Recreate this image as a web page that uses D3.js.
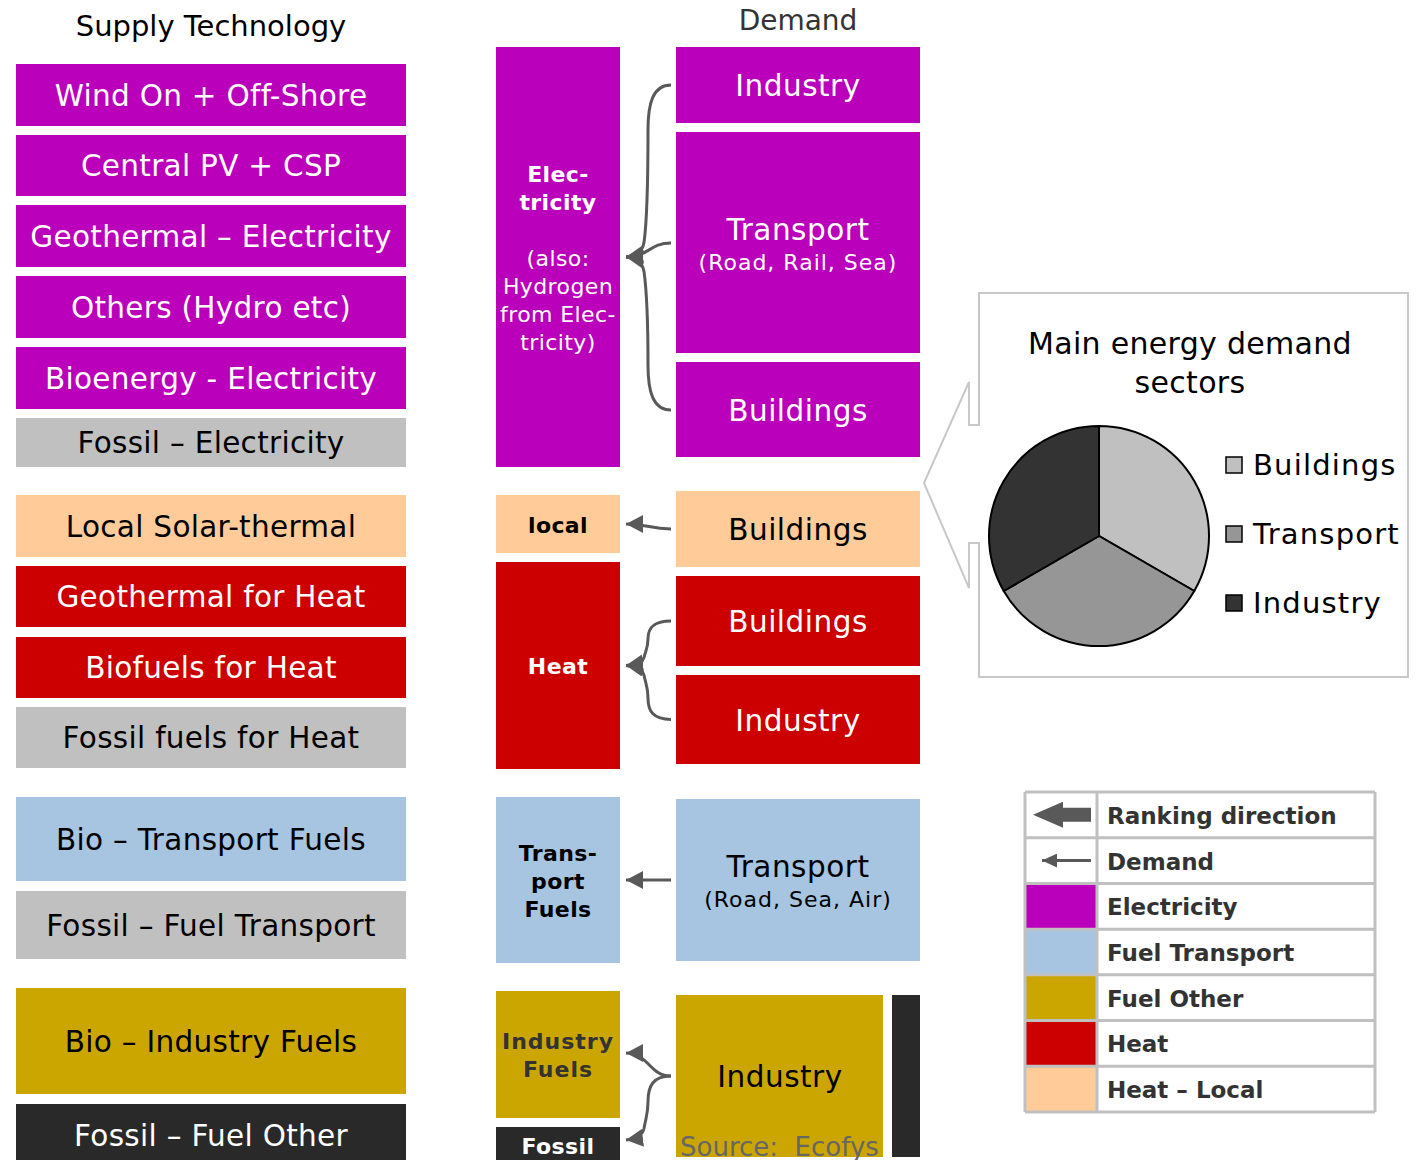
<!DOCTYPE html>
<html>
<head>
<meta charset="utf-8">
<script src="https://cdn.jsdelivr.net/npm/d3@7"></script>
<style>
  body { margin: 0; background: #fff; }
  svg { display: block; }
  text { font-family: "DejaVu Sans", Verdana, sans-serif; }
</style>
</head>
<body>
<div id="chart"></div>
<script>
// ---- data ----
const supplyLabels = ["Wind On + Off-Shore", "Central PV + CSP", "Geothermal – Electricity", "Others (Hydro etc)",
  "Bioenergy - Electricity", "Fossil – Electricity", "Local Solar-thermal", "Geothermal for Heat",
  "Biofuels for Heat", "Fossil fuels for Heat", "Bio – Transport Fuels", "Fossil – Fuel Transport",
  "Bio – Industry Fuels", "Fossil – Fuel Other"];
const supplyTypes = ["elec", "elec", "elec", "elec", "elec", "fossil", "local", "heat", "heat", "fossil",
  "transport", "fossil", "other", "fossilOther"];

const carrierLines = [
  ["Elec-", "tricity", "", "(also:", "Hydrogen", "from Elec-", "tricity)"],
  ["local"],
  ["Heat"],
  ["Trans-", "port", "Fuels"],
  ["Industry", "Fuels"],
  ["Fossil"]
];
const carrierBoldLines = [2, 1, 1, 3, 2, 1];
const carrierTypes = ["elec", "local", "heat", "transport", "other", "fossilOther"];

const demandLabels = ["Industry", "Transport", "Buildings", "Buildings", "Buildings", "Industry", "Transport", "Industry"];
const demandSubs = ["", "(Road, Rail, Sea)", "", "", "", "", "(Road, Sea, Air)", ""];
const demandTypes = ["elec", "elec", "elec", "local", "heat", "heat", "transport", "other"];

// demand index -> carrier index
const links = [[0, 0], [1, 0], [2, 0], [3, 1], [4, 2], [5, 2], [6, 3], [7, 4], [7, 5]];

const sectorNames = ["Buildings", "Transport", "Industry"];
const sectorShares = [1, 1, 1];

const legendLabels = ["Ranking direction", "Demand", "Electricity", "Fuel Transport", "Fuel Other", "Heat", "Heat – Local"];
const legendKeys = ["rank", "demand", "elec", "transport", "other", "heat", "local"];

// ---- styles ----
const fillColor = { elec: "#bb00bb", fossil: "#c0c0c0", local: "#ffcc99", heat: "#cc0000",
  transport: "#a7c4e0", other: "#cca600", fossilOther: "#292929" };
const textColor = { elec: "#fff", fossil: "#000", local: "#000", heat: "#fff",
  transport: "#000", other: "#000", fossilOther: "#fff" };
const arrowGrey = "#595959";

// ---- layout (box extents in px) ----
const supplyX = [16, 406];
const supplyY = [[64, 126], [135, 196], [205, 267], [276, 338], [347, 409], [418, 467], [495, 557],
  [566, 627], [637, 698], [707, 768], [797, 881], [891, 959], [988, 1094], [1104, 1170]];
const carrierX = [496, 620];
const carrierY = [[47, 467], [495, 553], [562, 769], [797, 963], [991, 1118], [1127, 1170]];
const demandX = [676, 920];
const demandY = [[47, 123], [132, 353], [362, 457], [491, 567], [576, 666], [675, 764], [799, 961], [995, 1157]];

const W = 1419, H = 1160;
const svg = d3.select("#chart").append("svg").attr("width", W).attr("height", H);

const defs = svg.append("defs");
defs.append("marker")
  .attr("id", "head")
  .attr("markerUnits", "userSpaceOnUse")
  .attr("viewBox", "0 -9 17 18")
  .attr("refX", 17).attr("refY", 0)
  .attr("markerWidth", 17).attr("markerHeight", 18)
  .attr("orient", "auto")
  .append("path").attr("d", "M0,-9L17,0L0,9Z").attr("fill", arrowGrey);
defs.append("marker")
  .attr("id", "headSmall")
  .attr("markerUnits", "userSpaceOnUse")
  .attr("viewBox", "0 -7 15 14")
  .attr("refX", 15).attr("refY", 0)
  .attr("markerWidth", 15).attr("markerHeight", 14)
  .attr("orient", "auto")
  .append("path").attr("d", "M0,-7L15,0L0,7Z").attr("fill", arrowGrey);

// ---- headers ----
svg.append("text").attr("x", 211).attr("y", 36).attr("text-anchor", "middle")
  .attr("font-size", 29).attr("fill", "#000").text("Supply Technology");
svg.append("text").attr("x", 798).attr("y", 30).attr("text-anchor", "middle")
  .attr("font-size", 28).attr("fill", "#333").text("Demand");

// ---- supply column ----
const supply = svg.append("g").selectAll("g")
  .data(supplyLabels.map((label, i) => ({ label, type: supplyTypes[i], y0: supplyY[i][0], y1: supplyY[i][1] })))
  .join("g");
supply.append("rect")
  .attr("x", supplyX[0]).attr("width", supplyX[1] - supplyX[0])
  .attr("y", d => d.y0).attr("height", d => d.y1 - d.y0)
  .attr("fill", d => fillColor[d.type]);
supply.append("text")
  .attr("x", (supplyX[0] + supplyX[1]) / 2)
  .attr("y", d => (d.y0 + Math.min(d.y1, 1166)) / 2 + 10.5)
  .attr("text-anchor", "middle").attr("font-size", 29.5).attr("letter-spacing", 0.3)
  .attr("fill", d => textColor[d.type])
  .text(d => d.label);

// ---- carrier column ----
const carriers = svg.append("g").selectAll("g")
  .data(carrierLines.map((lines, i) => ({ lines, bold: carrierBoldLines[i], type: carrierTypes[i], y0: carrierY[i][0], y1: carrierY[i][1] })))
  .join("g");
carriers.append("rect")
  .attr("x", carrierX[0]).attr("width", carrierX[1] - carrierX[0])
  .attr("y", d => d.y0).attr("height", d => d.y1 - d.y0)
  .attr("fill", d => fillColor[d.type]);
carriers.each(function (d) {
  const cy = d.type === "fossilOther" ? 1145 : (d.y0 + d.y1) / 2;
  const n = d.lines.length;
  d3.select(this).selectAll("text.line").data(d.lines).join("text")
    .attr("class", "line")
    .attr("x", (carrierX[0] + carrierX[1]) / 2)
    .attr("y", (t, i) => cy + 8.5 + (i - (n - 1) / 2) * 28)
    .attr("text-anchor", "middle").attr("font-size", 22)
    .attr("font-weight", (t, i) => i < d.bold ? "bold" : "normal")
    .attr("letter-spacing", d.type === "other" ? 1 : 0.4)
    .attr("fill", d.type === "other" ? "#333" : textColor[d.type])
    .text(t => t);
});

// ---- demand column ----
const demand = svg.append("g").selectAll("g")
  .data(demandLabels.map((label, i) => ({ label, sub: demandSubs[i], type: demandTypes[i], y0: demandY[i][0], y1: demandY[i][1] })))
  .join("g");
demand.append("rect")
  .attr("x", demandX[0])
  .attr("width", d => d.type === "other" ? 207 : demandX[1] - demandX[0])
  .attr("y", d => d.y0).attr("height", d => d.y1 - d.y0)
  .attr("fill", d => fillColor[d.type]);
demand.filter(d => d.type === "other").append("rect")
  .attr("x", 892).attr("width", demandX[1] - 892)
  .attr("y", d => d.y0).attr("height", d => d.y1 - d.y0)
  .attr("fill", fillColor.fossilOther);
demand.append("text")
  .attr("x", d => d.type === "other" ? 780 : (demandX[0] + demandX[1]) / 2)
  .attr("y", d => (d.y0 + d.y1) / 2 + (d.sub ? -3 : 11))
  .attr("text-anchor", "middle").attr("font-size", 29.5).attr("letter-spacing", 0.5)
  .attr("fill", d => textColor[d.type])
  .text(d => d.label);
demand.filter(d => d.sub).append("text")
  .attr("x", (demandX[0] + demandX[1]) / 2)
  .attr("y", d => (d.y0 + d.y1) / 2 + 27)
  .attr("text-anchor", "middle").attr("font-size", 22).attr("letter-spacing", 1)
  .attr("fill", d => textColor[d.type])
  .text(d => d.sub);

svg.append("text").attr("x", 680).attr("y", 1156)
  .attr("font-size", 26).attr("fill", "#666").style("white-space", "pre")
  .text("Source:  Ecofys");

// ---- demand arrows ----
const xStart = demandX[0] - 5, xEnd = carrierX[1] + 6, xBend = 647;
function arrowPath(ys, ye) {
  const p = d3.path();
  const dy = ye - ys, s = Math.sign(dy) || 1;
  p.moveTo(xStart, ys);
  if (Math.abs(dy) < 30) {
    p.bezierCurveTo(xBend + 2, ys, xBend + 2, ye, xEnd, ye);
  } else {
    const r1 = Math.min(Math.abs(dy) * 0.4, 45), r2 = Math.min(Math.abs(dy) * 0.3, 24);
    p.bezierCurveTo(xBend + 6, ys, xBend + 1, ys + s * r1 * 0.4, xBend + 1, ys + s * r1);
    p.bezierCurveTo(xBend + 1, ys + s * Math.abs(dy) * 0.6, xBend - 1, ye - s * r2 * 1.2, xBend - 3, ye - s * r2 * 0.6);
    p.bezierCurveTo(xBend - 5, ye - s * 3, xEnd + 8, ye - s * 1, xEnd, ye);
  }
  return p.toString();
}
const carrierTarget = i => {
  if (i === 4) return 1053;
  if (i === 5) return 1140;
  if (i === 1) return 524;
  return (carrierY[i][0] + carrierY[i][1]) / 2;
};
const demandSource = i => {
  if (i === 3) return 529;
  if (i === 7) return 1076;
  const c = (demandY[i][0] + demandY[i][1]) / 2;
  if (i === 2) return 410;
  if (i === 1) return 243;
  return c;
};
svg.append("g").selectAll("path")
  .data(links)
  .join("path")
  .attr("d", ([di, ci]) => {
    const ys = demandSource(di), ye = carrierTarget(ci);
    if (di === 6) return `M${xStart},${ys}L${xEnd},${ye}`;
    return arrowPath(ys, ye);
  })
  .attr("fill", "none")
  .attr("stroke", arrowGrey)
  .attr("stroke-width", 3)
  .attr("marker-end", "url(#head)");

// ---- pie callout ----
const box = { x0: 979, y0: 293, x1: 1408, y1: 677 };
const callout = [[box.x0, box.y0], [box.x1, box.y0], [box.x1, box.y1], [box.x0, box.y1],
  [box.x0, 543], [969, 543], [969, 588], [924, 483], [969, 382], [969, 425], [box.x0, 425]];
svg.append("path")
  .attr("d", d3.line()(callout) + "Z")
  .attr("fill", "#fff").attr("stroke", "#c8c8c8").attr("stroke-width", 2);

svg.append("g").selectAll("text")
  .data(["Main energy demand", "sectors"])
  .join("text")
  .attr("x", 1190).attr("y", (d, i) => 354 + i * 39)
  .attr("text-anchor", "middle").attr("font-size", 30).attr("letter-spacing", 0.3).attr("fill", "#000")
  .text(d => d);

const sectorColor = d3.scaleOrdinal().domain(sectorNames).range(["#c0c0c0", "#969696", "#333333"]);
const pie = d3.pie().sort(null).value(d => d)(sectorShares);
const arc = d3.arc().innerRadius(0).outerRadius(110);
svg.append("g").attr("transform", "translate(1099,536)")
  .selectAll("path").data(pie).join("path")
  .attr("d", arc)
  .attr("fill", (d, i) => sectorColor(sectorNames[i]))
  .attr("stroke", "#000").attr("stroke-width", 2);

const pieLegend = svg.append("g").selectAll("g")
  .data(sectorNames).join("g")
  .attr("transform", (d, i) => `translate(1226,${457 + i * 69})`);
pieLegend.append("rect").attr("width", 16).attr("height", 16)
  .attr("fill", d => sectorColor(d)).attr("stroke", "#000").attr("stroke-width", 1.5);
pieLegend.append("text").attr("x", 27).attr("y", 18)
  .attr("font-size", 29).attr("letter-spacing", 1.2).attr("fill", "#000").text(d => d);

// ---- legend table ----
const lx0 = 1025, lx1 = 1375, lxDiv = 1097;
const rowY = d3.scaleBand().domain(legendKeys).range([792, 1112]).paddingInner(0);
const legend = svg.append("g");
legend.selectAll("rect.sw")
  .data(legendKeys.filter(k => fillColor[k]))
  .join("rect").attr("class", "sw")
  .attr("x", lx0).attr("width", lxDiv - lx0)
  .attr("y", k => rowY(k)).attr("height", rowY.bandwidth())
  .attr("fill", k => fillColor[k]);
legend.selectAll("line.row")
  .data(d3.range(legendKeys.length + 1))
  .join("line").attr("class", "row")
  .attr("x1", lx0).attr("x2", lx1)
  .attr("y1", i => 792 + i * rowY.bandwidth()).attr("y2", i => 792 + i * rowY.bandwidth())
  .attr("stroke", "#c0c0c0").attr("stroke-width", 3);
legend.selectAll("line.col")
  .data([lx0, lxDiv, lx1])
  .join("line").attr("class", "col")
  .attr("x1", d => d).attr("x2", d => d).attr("y1", 792).attr("y2", 1112)
  .attr("stroke", "#c0c0c0").attr("stroke-width", 3);
legend.selectAll("text")
  .data(legendLabels)
  .join("text")
  .attr("x", 1107)
  .attr("y", (d, i) => rowY(legendKeys[i]) + rowY.bandwidth() / 2 + 9)
  .attr("font-size", 23).attr("font-weight", "bold").attr("fill", "#333")
  .text(d => d);

// legend arrow glyphs
const rcy = rowY("rank") + rowY.bandwidth() / 2;
legend.append("path")
  .attr("d", d3.line()([[1033, rcy], [1063, rcy - 13], [1063, rcy - 7], [1091, rcy - 7],
    [1091, rcy + 7], [1063, rcy + 7], [1063, rcy + 13]]) + "Z")
  .attr("fill", arrowGrey);
const dcy = rowY("demand") + rowY.bandwidth() / 2;
legend.append("path")
  .attr("d", `M1091,${dcy}L1042,${dcy}`)
  .attr("stroke", arrowGrey).attr("stroke-width", 3)
  .attr("marker-end", "url(#headSmall)");
</script>
</body>
</html>
